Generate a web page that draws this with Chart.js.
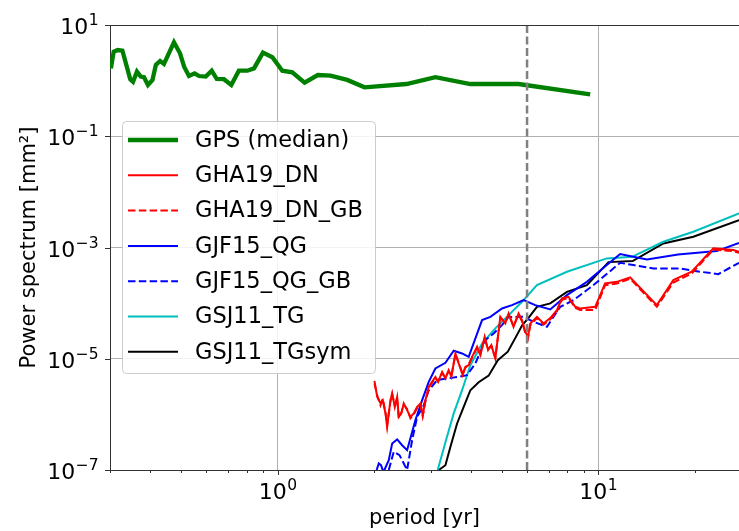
<!DOCTYPE html>
<html>
<head>
<meta charset="utf-8">
<script src="https://cdn.jsdelivr.net/npm/chart.js@4.4.1/dist/chart.umd.min.js"></script>
<style>
html,body{margin:0;padding:0;background:#fff;}
canvas{display:block;}
</style>
</head>
<body>
<canvas id="c" width="739" height="531"></canvas>
<script>
// ---------- data ----------
const gpsPeriod = [0.302,0.308,0.317,0.328,0.347,0.354,0.364,0.374,0.383,0.394,0.407,0.417,0.430,0.442,0.475,0.496,0.511,0.529,0.551,0.569,0.597,0.623,0.646,0.680,0.717,0.757,0.805,0.844,0.900,0.963,1.034,1.111,1.214,1.335,1.463,1.649,1.866,2.523,3.106,3.993,5.646,9.443];
const gpsPower  = [1.66,3.31,3.55,3.45,1.06,0.955,1.45,1.18,1.15,0.834,1.03,1.91,2.25,1.99,4.89,3.10,1.78,1.21,1.35,1.21,1.18,1.51,1.07,1.06,0.834,1.51,1.51,1.66,3.18,2.63,1.51,1.41,0.917,1.26,1.23,1.03,0.758,0.869,1.15,0.869,0.869,0.567];

const ghaDnPeriod = [2.005,2.045,2.094,2.128,2.170,2.196,2.249,2.277,2.320,2.360,2.387,2.434,2.474,2.535,2.596,2.658,2.724,2.790,2.836,2.892,2.961,3.033,3.106,3.167,3.260,3.338,3.417,3.484,3.586,3.672,3.779,3.852,3.945,4.042,4.190,4.290,4.425,4.534,4.642,4.777,4.952,5.132,5.255,5.445,5.646,5.786,5.925,6.041,6.141,6.442,6.755,7.088,7.436,7.708,8.081,8.479,8.788,9.788,10.51,11.44,12.58,15.24,17.16,19.58,22.87,26.40,27.5];
const ghaDnPower = [4.0e-6,2.06e-6,1.59e-6,1.80e-6,1.05e-6,5.96e-7,1.80e-6,2.41e-6,1.36e-6,2.06e-6,9.0e-7,1.05e-6,1.57e-6,1.19e-6,9.0e-7,1.04e-6,1.36e-6,1.57e-6,9.67e-7,1.80e-6,3.12e-6,3.84e-6,4.73e-6,3.84e-6,5.81e-6,4.42e-6,6.24e-6,4.73e-6,1.245e-5,8.23e-6,5.07e-6,7.15e-6,7.67e-6,1.08e-5,1.64e-5,1.16e-5,2.48e-5,1.43e-5,1.76e-5,1.01e-5,5.67e-5,4.31e-5,6.53e-5,3.75e-5,6.53e-5,4.95e-5,3.05e-5,2.48e-5,4.31e-5,5.67e-5,4.31e-5,5.37e-5,7.48e-5,1.215e-4,1.30e-4,8.58e-5,8.03e-5,8.58e-5,2.26e-4,2.415e-4,2.90e-4,9.20e-5,2.59e-4,3.66e-4,9.63e-4,8.98e-4,8.37e-4];
const ghaDnGbPower = [3.6e-6,2.2e-6,1.45e-6,1.9e-6,1.1e-6,6.4e-7,1.7e-6,2.3e-6,1.45e-6,1.95e-6,8.6e-7,1.1e-6,1.5e-6,1.25e-6,8.5e-7,1.0e-6,1.3e-6,1.5e-6,9.2e-7,1.7e-6,3.0e-6,3.7e-6,4.5e-6,3.9e-6,5.5e-6,4.6e-6,6.0e-6,4.9e-6,1.18e-5,8.5e-6,5.3e-6,6.9e-6,7.9e-6,1.04e-5,1.58e-5,1.2e-5,2.35e-5,1.48e-5,1.7e-5,1.05e-5,5.4e-5,4.5e-5,6.2e-5,3.9e-5,6.2e-5,4.7e-5,2.9e-5,2.3e-5,4.0e-5,5.4e-5,4.1e-5,5.1e-5,7.1e-5,1.15e-4,1.24e-4,8.2e-5,7.5e-5,7.5e-5,2.1e-4,2.25e-4,2.75e-4,8.6e-5,2.35e-4,3.4e-4,9.2e-4,8.6e-4,8.0e-4];

const gjfPeriod = [2.037,2.068,2.101,2.139,2.222,2.277,2.360,2.446,2.535,2.691,2.824,2.961,3.106,3.338,3.543,3.762,3.945,4.343,4.610,5.012,5.385,5.853,6.364,7.088,7.989,9.221,10.64,11.71,14.19,17.75,23.43,27.5];
const gjfPower  = [1.0e-7,1.31e-7,1.22e-7,9.2e-8,1.50e-7,3.0e-7,3.54e-7,2.79e-7,2.27e-7,7.87e-7,1.80e-6,3.84e-6,6.69e-6,8.44e-6,1.39e-5,1.245e-5,1.08e-5,4.95e-5,5.67e-5,8.03e-5,9.20e-5,1.13e-4,9.20e-5,7.70e-5,1.39e-4,2.415e-4,4.83e-4,7.61e-4,6.11e-4,7.51e-4,8.62e-4,1.21e-3];

const gjfGbPeriod = [2.222,2.303,2.40,2.535,2.628,2.724,2.857,2.961,3.144,3.379,3.672,3.899,4.139,4.447,4.719,5.012,5.243,5.853,6.287,6.922,7.614,8.377,9.669,11.71,12.88,14.87,18.01,19.81,23.70,27.5];
const gjfGbPower  = [1.0e-7,2.12e-7,1.85e-7,1.0e-7,3.44e-7,9.02e-7,1.46e-6,2.72e-6,4.12e-6,4.42e-6,4.73e-6,5.07e-6,8.23e-6,2.16e-5,2.85e-5,4.02e-5,5.60e-5,5.67e-5,4.61e-5,3.75e-5,8.58e-5,1.13e-4,2.11e-4,5.31e-4,4.83e-4,4.21e-4,4.21e-4,3.81e-4,3.32e-4,5.31e-4];

const sjTgPeriod = [3.158,3.338,3.543,3.762,3.993,4.343,4.777,5.255,5.786,6.442,7.989,10.64,12.76,15.97,19.81,27.5];
const sjTgPower  = [1.0e-7,3.16e-7,1.04e-6,2.72e-6,7.67e-6,1.88e-5,3.51e-5,6.08e-5,1.055e-4,2.11e-4,3.66e-4,6.37e-4,6.80e-4,1.266e-3,1.916e-3,4.10e-3];

const sjTgSymPeriod = [3.181,3.338,3.459,3.630,3.806,3.993,4.238,4.554,4.863,5.225,5.512,5.798,6.02,6.442,7.088,7.989,9.221,10.77,12.81,15.97,19.81,27.5];
const sjTgSymPower  = [1.0e-7,1.22e-7,2.60e-7,6.86e-7,1.36e-6,2.72e-6,3.79e-6,4.97e-6,9.44e-6,1.34e-5,2.35e-5,4.02e-5,5.16e-5,8.58e-5,9.88e-5,1.596e-4,2.11e-4,5.46e-4,5.69e-4,1.185e-3,1.558e-3,3.11e-3];

const markerPeriod = 6;           // vertical dashed line
const seriesLabels = ['GPS (median)','GHA19_DN','GHA19_DN_GB','GJF15_QG','GJF15_QG_GB','GSJ11_TG','GSJ11_TGsym'];

const xTickValues = [0.3,0.4,0.5,0.6,0.7,0.8,0.9,1,2,3,4,5,6,7,8,9,10,20];
const xMajorValues = [1,10];
const xTickBase = ['10','10'];
const xTickExp  = ['0','1'];
const yTickValues = [1e-7,1e-5,1e-3,1e-1,1e1];
const yTickBase = ['10','10','10','10','10'];
const yTickExp  = ['\u22127','\u22125','\u22123','\u22121','1'];

const xRange = [0.3, 27.5];
const yRange = [1e-7, 10];

// ---------- build ----------
const pts = (xs, ys) => xs.map((x, i) => ({x: x, y: ys[i]}));
const FONT = 'DejaVu Sans';
const BASE_PX = 22, SUP_PX = 15.5, LEGEND_PX = 22.5, TITLE_PX = 21;

function ds(label, data, color, width, dash) {
  return {label, data, borderColor: color, backgroundColor: color, borderWidth: width,
    borderDash: dash || [], pointRadius: 0, showLine: true, tension: 0, fill: false};
}

const datasets = [
  ds(seriesLabels[0], pts(gpsPeriod, gpsPower), '#008000', 4.3),
  ds(seriesLabels[1], pts(ghaDnPeriod, ghaDnPower), '#ff0000', 2),
  ds(seriesLabels[2], pts(ghaDnPeriod, ghaDnGbPower), '#ff0000', 2, [7.5, 3.3]),
  ds(seriesLabels[3], pts(gjfPeriod, gjfPower), '#0000ff', 2),
  ds(seriesLabels[4], pts(gjfGbPeriod, gjfGbPower), '#0000ff', 2, [7.5, 3.3]),
  ds(seriesLabels[5], pts(sjTgPeriod, sjTgPower), '#00bfbf', 2),
  ds(seriesLabels[6], pts(sjTgSymPeriod, sjTgSymPower), '#000000', 2),
];
const vline = ds('', [{x: markerPeriod, y: yRange[0]}, {x: markerPeriod, y: yRange[1]}], '#808080', 2.5, [8, 3.5]);
vline.isMarker = true;
datasets.unshift(vline);

function drawPow(ctx, base, exp, x, baseY, align) {
  ctx.font = BASE_PX + 'px "' + FONT + '"';
  const wb = ctx.measureText(base).width;
  ctx.font = SUP_PX + 'px "' + FONT + '"';
  const we = ctx.measureText(exp).width;
  const total = wb + we;
  const start = align === 'center' ? x - total / 2 : x - total;
  ctx.textAlign = 'left'; ctx.textBaseline = 'alphabetic'; ctx.fillStyle = '#000';
  ctx.font = BASE_PX + 'px "' + FONT + '"';
  ctx.fillText(base, start, baseY);
  ctx.font = SUP_PX + 'px "' + FONT + '"';
  ctx.fillText(exp, start + wb + 0.5, baseY - 9);
}

const decoPlugin = {
  id: 'deco',
  afterDraw(chart) {
    const ctx = chart.ctx, a = chart.chartArea;
    const xs = chart.scales.x, ys = chart.scales.y;
    ctx.save();
    // top spine
    ctx.strokeStyle = '#333'; ctx.lineWidth = 1;
    ctx.beginPath(); ctx.moveTo(a.left, a.top + 0.5); ctx.lineTo(a.right, a.top + 0.5); ctx.stroke();
    // x tick marks
    xs.ticks.forEach(t => {
      const px = Math.round(xs.getPixelForValue(t.value)) + 0.5;
      const len = t.major ? 5 : 3;
      ctx.beginPath(); ctx.moveTo(px, a.bottom); ctx.lineTo(px, a.bottom + len); ctx.stroke();
    });
    // y tick marks
    ys.ticks.forEach(t => {
      const py = Math.round(ys.getPixelForValue(t.value)) + 0.5;
      ctx.beginPath(); ctx.moveTo(a.left - 5, py); ctx.lineTo(a.left, py); ctx.stroke();
    });
    // tick labels (10 with superscript exponent)
    xMajorValues.forEach((v, i) => {
      drawPow(ctx, xTickBase[i], xTickExp[i], xs.getPixelForValue(v), a.bottom + 29, 'center');
    });
    yTickValues.forEach((v, i) => {
      drawPow(ctx, yTickBase[i], yTickExp[i], a.left - 12, ys.getPixelForValue(v) + 9, 'right');
    });
    // legend
    const bx = 122, by = 121, bw = 253, bh = 252, r = 4;
    ctx.fillStyle = 'rgba(255,255,255,0.85)';
    ctx.strokeStyle = '#cccccc'; ctx.lineWidth = 1;
    ctx.beginPath();
    ctx.roundRect(bx + 0.5, by + 0.5, bw, bh, r);
    ctx.fill(); ctx.stroke();
    const items = chart.data.datasets.filter(d => !d.isMarker);
    items.forEach((d, i) => {
      const y = 140 + i * 35.3;
      ctx.strokeStyle = d.borderColor; ctx.lineWidth = d.borderWidth;
      ctx.setLineDash(d.borderDash || []);
      ctx.beginPath(); ctx.moveTo(128, y); ctx.lineTo(178, y); ctx.stroke();
      ctx.setLineDash([]);
      ctx.fillStyle = '#000'; ctx.font = LEGEND_PX + 'px "' + FONT + '"';
      ctx.textBaseline = 'middle'; ctx.textAlign = 'left';
      ctx.fillText(d.label, 195, y + 1);
    });
    ctx.restore();
  }
};

new Chart(document.getElementById('c'), {
  type: 'scatter',
  data: {datasets},
  plugins: [decoPlugin],
  options: {
    responsive: false,
    animation: false,
    devicePixelRatio: 1,
    layout: {padding: {top: 25, right: 0, left: 0, bottom: 0}},
    plugins: {legend: {display: false}, tooltip: {enabled: false}},
    scales: {
      x: {
        type: 'logarithmic', position: 'bottom', min: xRange[0], max: xRange[1],
        afterBuildTicks: s => { s.ticks = xTickValues.map(v => ({value: v, major: xMajorValues.includes(v)})); },
        afterFit: s => { s.height = 61; },
        ticks: {display: false},
        grid: {drawTicks: false, lineWidth: 1,
          color: c => (c.tick && c.tick.major) ? '#b0b0b0' : 'rgba(0,0,0,0)'},
        border: {display: true, color: '#333', width: 1},
        title: {display: true, text: 'period [yr]', color: '#000', font: {family: FONT, size: TITLE_PX}, padding: {top: 0, bottom: 0}}
      },
      y: {
        type: 'logarithmic', position: 'left', min: yRange[0], max: yRange[1],
        afterBuildTicks: s => { s.ticks = yTickValues.map(v => ({value: v, major: true})); },
        afterFit: s => { s.width = 110; },
        ticks: {display: false},
        grid: {drawTicks: false, lineWidth: 1, color: '#b0b0b0'},
        border: {display: true, color: '#333', width: 1},
        title: {display: true, text: 'Power spectrum [mm\u00B2]', color: '#000', font: {family: FONT, size: TITLE_PX}, padding: {top: 17, bottom: 0}}
      }
    }
  }
});
</script>
</body>
</html>
